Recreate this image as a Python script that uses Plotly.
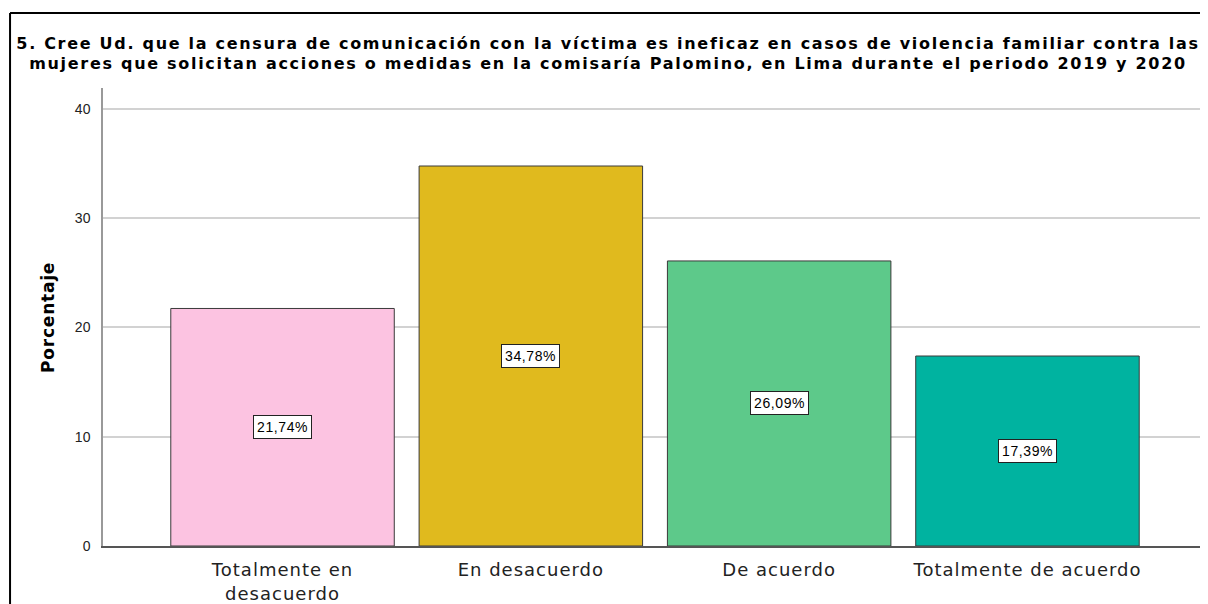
import plotly.graph_objects as go

# Datos del gráfico
categorias = ["Totalmente en<br>desacuerdo", "En desacuerdo", "De acuerdo", "Totalmente de acuerdo"]
porcentajes = [21.74, 34.78, 26.09, 17.39]
colores = ["#FCC3E1", "#E0BA1E", "#5DC98A", "#00B3A0"]
etiquetas = ["21,74%", "34,78%", "26,09%", "17,39%"]

titulo_1 = "5. Cree Ud. que la censura de comunicación con la víctima es ineficaz en casos de violencia familiar contra las"
titulo_2 = "mujeres que solicitan acciones o medidas en la comisaría Palomino, en Lima durante el periodo 2019 y 2020"

arial = "Arial, Liberation Sans, sans-serif"
ancha = "DejaVu Sans, Arial, sans-serif"


def espaciado(texto, px):
    # el original está estirado en horizontal; se imita con letter-spacing
    partes = texto.split("<br>")
    return "<br>".join(f'<span style="letter-spacing:{px}px">{p}</span>' for p in partes)


fig = go.Figure()

fig.add_trace(go.Bar(
    x=list(range(len(categorias))),
    y=porcentajes,
    marker=dict(color=colores, line=dict(color="#3a3a3a", width=1)),
    width=0.9,
    hoverinfo="skip",
))

# Etiquetas con recuadro en el centro de cada barra
anotaciones = []
for i, (v, t) in enumerate(zip(porcentajes, etiquetas)):
    anotaciones.append(dict(
        x=i, y=v / 2, text=espaciado(t, 0.6), showarrow=False,
        font=dict(family=arial, size=14, color="black"),
        bgcolor="white", bordercolor="#222222", borderwidth=1, borderpad=3,
    ))

# Título del eje Y
anotaciones.append(dict(
    x=-0.0607, y=0.5, xref="paper", yref="paper",
    text="<b>" + espaciado("Porcentaje", 0.8) + "</b>",
    textangle=-90, showarrow=False, font=dict(family=ancha, size=17, color="black"),
))

fig.update_layout(
    width=1200, height=596,
    paper_bgcolor="white", plot_bgcolor="white",
    margin=dict(l=95, r=1, t=80, b=58),
    showlegend=False,
    title=dict(
        text="<b>" + espaciado(titulo_1 + "<br>" + titulo_2, 1.7) + "</b>",
        x=0.5, xref="container", xanchor="center",
        y=0.932, yref="container", yanchor="top",
        font=dict(family=ancha, size=16, color="black"),
    ),
    xaxis=dict(
        tickvals=list(range(len(categorias))),
        ticktext=[espaciado(c, 1) for c in categorias],
        range=[-0.723, 3.723],
        tickfont=dict(family=ancha, size=18, color="#222222"),
        showline=True, linecolor="#555555", linewidth=1.5,
        showgrid=False, ticks="", fixedrange=True, ticklabelstandoff=7,
    ),
    yaxis=dict(
        range=[0, 41.92], tickvals=[0, 10, 20, 30, 40],
        tickfont=dict(family=arial, size=14, color="#222222"),
        showline=True, linecolor="#999999", linewidth=1.5,
        showgrid=True, gridcolor="#d2d2d2", gridwidth=1.5,
        zeroline=False, ticks="", ticklabelstandoff=8,
    ),
    annotations=anotaciones,
    shapes=[
        dict(type="line", xref="paper", yref="paper", x0=-0.0842, x1=1.01, y0=1.1638, y1=1.1638,
             line=dict(color="black", width=2)),
        dict(type="line", xref="paper", yref="paper", x0=-0.0842, x1=-0.0842, y0=1.1638, y1=-0.2,
             line=dict(color="black", width=2)),
    ],
)

fig.write_html("out.html")
